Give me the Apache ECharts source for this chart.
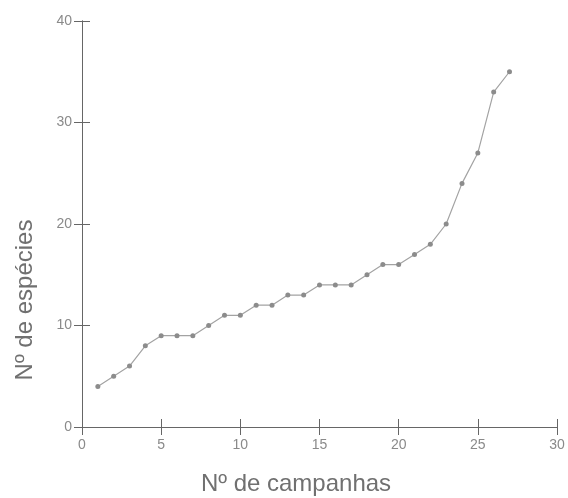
<!DOCTYPE html>
<html>
<head>
<meta charset="utf-8">
<script src="https://cdn.jsdelivr.net/npm/echarts@6/dist/echarts.min.js"></script>
<style>
  html, body { margin: 0; padding: 0; background: #fff; }
  #chart { width: 568px; height: 498px; }
</style>
</head>
<body>
<div id="chart"></div>
<script>
// Species accumulation curve: number of species vs. number of sampling campaigns
const campaigns = [1, 2, 3, 4, 5, 6, 7, 8, 9, 10, 11, 12, 13, 14, 15, 16, 17, 18, 19, 20, 21, 22, 23, 24, 25, 26, 27];
const species   = [4, 5, 6, 8, 9, 9, 9, 10, 11, 11, 12, 12, 13, 13, 14, 14, 14, 15, 16, 16, 17, 18, 20, 24, 27, 33, 35];
const xTitle = 'Nº de campanhas';
const yTitle = 'Nº de espécies';

const FONT = 'Liberation Sans, Arial, sans-serif';
const axisColor = '#666';
const labelColor = '#8a8a8a';

const points = campaigns.map((c, i) => [c, species[i]]);

const chart = echarts.init(document.getElementById('chart'), null, { renderer: 'canvas' });

const baseX = {
  type: 'value', min: 0, max: 30, interval: 5, position: 'bottom',
  axisLine: { show: true, onZero: false, lineStyle: { color: axisColor, width: 1 } },
  splitLine: { show: false }
};
const baseY = {
  type: 'value', min: 0, max: 40, interval: 10, position: 'left',
  axisLine: { show: true, onZero: false, lineStyle: { color: axisColor, width: 1 } },
  splitLine: { show: false }
};

chart.setOption({
  animation: false,
  backgroundColor: '#fff',
  grid: { left: 82, right: 11, top: 21, bottom: 71 },
  xAxis: [
    Object.assign({}, baseX, {
      axisTick: { show: true, inside: false, length: 8, lineStyle: { color: axisColor } },
      axisLabel: { color: labelColor, fontFamily: FONT, fontSize: 14, margin: 11 }
    }),
    Object.assign({}, baseX, {
      axisTick: { show: true, inside: true, length: 8, lineStyle: { color: axisColor } },
      axisLabel: { show: false }
    })
  ],
  yAxis: [
    Object.assign({}, baseY, {
      axisTick: { show: true, inside: false, length: 8, lineStyle: { color: axisColor } },
      axisLabel: { color: labelColor, fontFamily: FONT, fontSize: 14, margin: 10 }
    }),
    Object.assign({}, baseY, {
      axisTick: { show: true, inside: true, length: 8, lineStyle: { color: axisColor } },
      axisLabel: { show: false }
    })
  ],
  series: [{
    type: 'line',
    xAxisIndex: 0,
    yAxisIndex: 0,
    data: points,
    symbol: 'circle',
    symbolSize: 5,
    lineStyle: { color: '#a3a3a3', width: 1.2 },
    itemStyle: { color: '#8c8c8c' },
    z: 3
  }],
  graphic: [
    {
      type: 'text', x: 296, y: 484,
      style: {
        text: xTitle, x: 0, y: 0, align: 'center', verticalAlign: 'middle',
        font: '24px ' + FONT, fill: '#707070'
      }
    },
    {
      type: 'text', x: 25, y: 300, rotation: Math.PI / 2,
      style: {
        text: yTitle, x: 0, y: 0, align: 'center', verticalAlign: 'middle',
        font: '24px ' + FONT, fill: '#707070'
      }
    }
  ]
});
</script>
</body>
</html>
